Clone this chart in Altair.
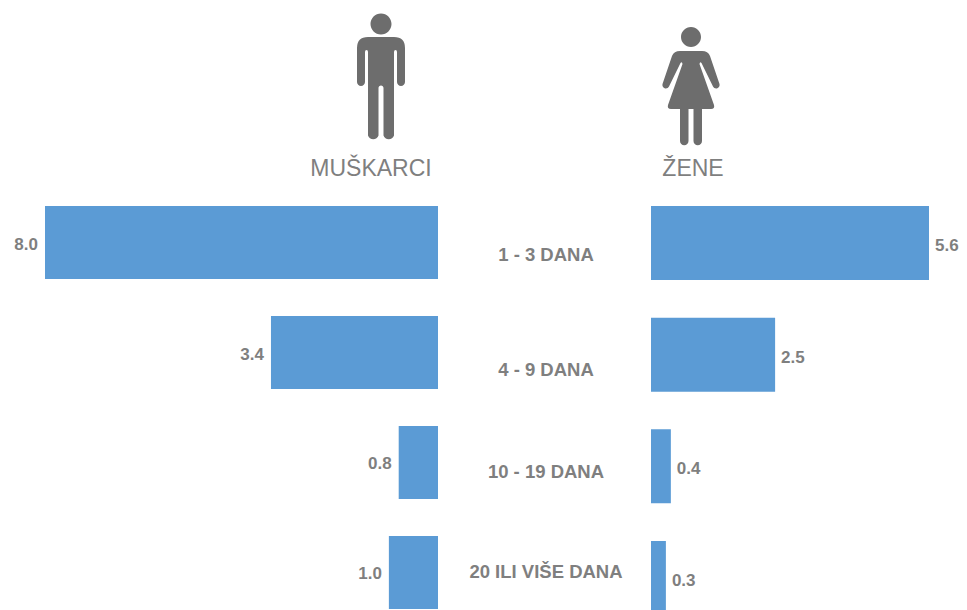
import altair as alt
import pandas as pd

categories = ["1 - 3 DANA", "4 - 9 DANA", "10 - 19 DANA", "20 ILI VIŠE DANA"]
muskarci = [8.0, 3.4, 0.8, 1.0]
zene = [5.6, 2.5, 0.4, 0.3]

BLUE = "#5b9bd5"
GREY = "#7f7f7f"
ICON = "#6d6d6d"
FONT = "Liberation Sans"

MAN = ("M-10.5,-53a10.5,10.5 0 1 0 21,0a10.5,10.5 0 1 0 -21,0Z"
       "M-13,-40L13,-40Q24,-40 24,-29L24,5A4,4 0 0 1 16,5L16,-25Q16,-27 14.5,-27Q13,-27 13,-25"
       "L13,58.5A5.5,5.5 0 0 1 2.5,58.5L2.5,11A2.5,2.5 0 0 0 -2.5,11L-2.5,58.5A5.5,5.5 0 0 1 -13,58.5"
       "L-13,-25Q-13,-27 -14.5,-27Q-16,-27 -16,-25L-16,5A4,4 0 0 1 -24,5L-24,-29Q-24,-40 -13,-40Z")
WOMAN = ("M-10,-54a10,10 0 1 0 20,0a10,10 0 1 0 -20,0Z"
         "M-11,-40L11,-40Q17,-40 19,-35L28.5,-7A3.5,3.5 0 0 1 22,-4.5L10.5,-28Q9,-30 8.5,-27"
         "L23,14Q24,18 20,18L11,18L11,50A4.2,4.2 0 0 1 2.5,50L2.5,18L-2.5,18L-2.5,50A4.2,4.2 0 0 1 -11,50L-11,18L-20,18"
         "Q-24,18 -23,14L-8.5,-27Q-9,-30 -10.5,-28L-22,-4.5A3.5,3.5 0 0 1 -28.5,-7L-19,-35Q-17,-40 -11,-40Z")

df = pd.DataFrame({"cat": categories, "m": muskarci, "z": zene})

xL = alt.Scale(domain=[0, 8], range=[430, 37])
xR = alt.Scale(domain=[0, 5.6], range=[643, 921])
yL = alt.Scale(type="band", domain=categories, range=[198, 601], paddingInner=0.336, paddingOuter=0)
yR = alt.Scale(type="band", domain=categories, range=[198, 607], paddingInner=0.337, paddingOuter=0)
NOAX = None

base = alt.Chart(df)
layers = [
    base.mark_bar(color=BLUE).encode(
        x=alt.X("m:Q", scale=xL, axis=NOAX),
        y=alt.Y("cat:N", scale=yL, axis=NOAX, sort=categories)),
    base.mark_text(font=FONT, fontSize=17, fontWeight="bold", color=GREY, align="right", dx=-7, dy=2).encode(
        x=alt.X("m:Q", scale=xL, axis=NOAX),
        y=alt.Y("cat:N", scale=yL, axis=NOAX, sort=categories),
        text=alt.Text("m:Q", format=".1f")),
    base.mark_bar(color=BLUE).encode(
        x=alt.X("z:Q", scale=xR, axis=NOAX),
        y=alt.Y("cat:N", scale=yR, axis=NOAX, sort=categories)),
    base.mark_text(font=FONT, fontSize=17, fontWeight="bold", color=GREY, align="left", dx=6, dy=3).encode(
        x=alt.X("z:Q", scale=xR, axis=NOAX),
        y=alt.Y("cat:N", scale=yR, axis=NOAX, sort=categories),
        text=alt.Text("z:Q", format=".1f")),
]

center_dy = [12, 17, 10, 0]
for cat, d in zip(categories, center_dy):
    layers.append(
        alt.Chart(df[df["cat"] == cat]).mark_text(
            font=FONT, fontSize=18.5, fontWeight="bold", color=GREY, align="center", dy=d
        ).encode(
            x=alt.value(538),
            y=alt.Y("cat:N", scale=yL, axis=NOAX, sort=categories),
            text="cat:N")
    )

head = pd.DataFrame({"t": ["MUŠKARCI", "ŽENE"]})
layers += [
    alt.Chart(head[head.t == "MUŠKARCI"]).mark_point(shape=MAN, size=4, filled=True, opacity=1, color=ICON, strokeWidth=0).encode(
        x=alt.value(373), y=alt.value(69)),
    alt.Chart(head[head.t == "ŽENE"]).mark_point(shape=WOMAN, size=4, filled=True, opacity=1, color=ICON, strokeWidth=0).encode(
        x=alt.value(683), y=alt.value(83)),
    alt.Chart(head[head.t == "MUŠKARCI"]).mark_text(font=FONT, fontSize=23, color=GREY, align="center", baseline="middle").encode(
        x=alt.value(363), y=alt.value(161), text="t:N"),
    alt.Chart(head[head.t == "ŽENE"]).mark_text(font=FONT, fontSize=23, color=GREY, align="center", baseline="middle").encode(
        x=alt.value(685), y=alt.value(161), text="t:N"),
]

chart = alt.layer(*layers).resolve_scale(x="independent", y="independent").properties(
    width=951, height=602, padding=0, background="white", autosize=alt.AutoSizeParams(type="none")
).configure_view(stroke=None)

chart.save("out.html", embed_options={"renderer": "svg", "actions": False})
